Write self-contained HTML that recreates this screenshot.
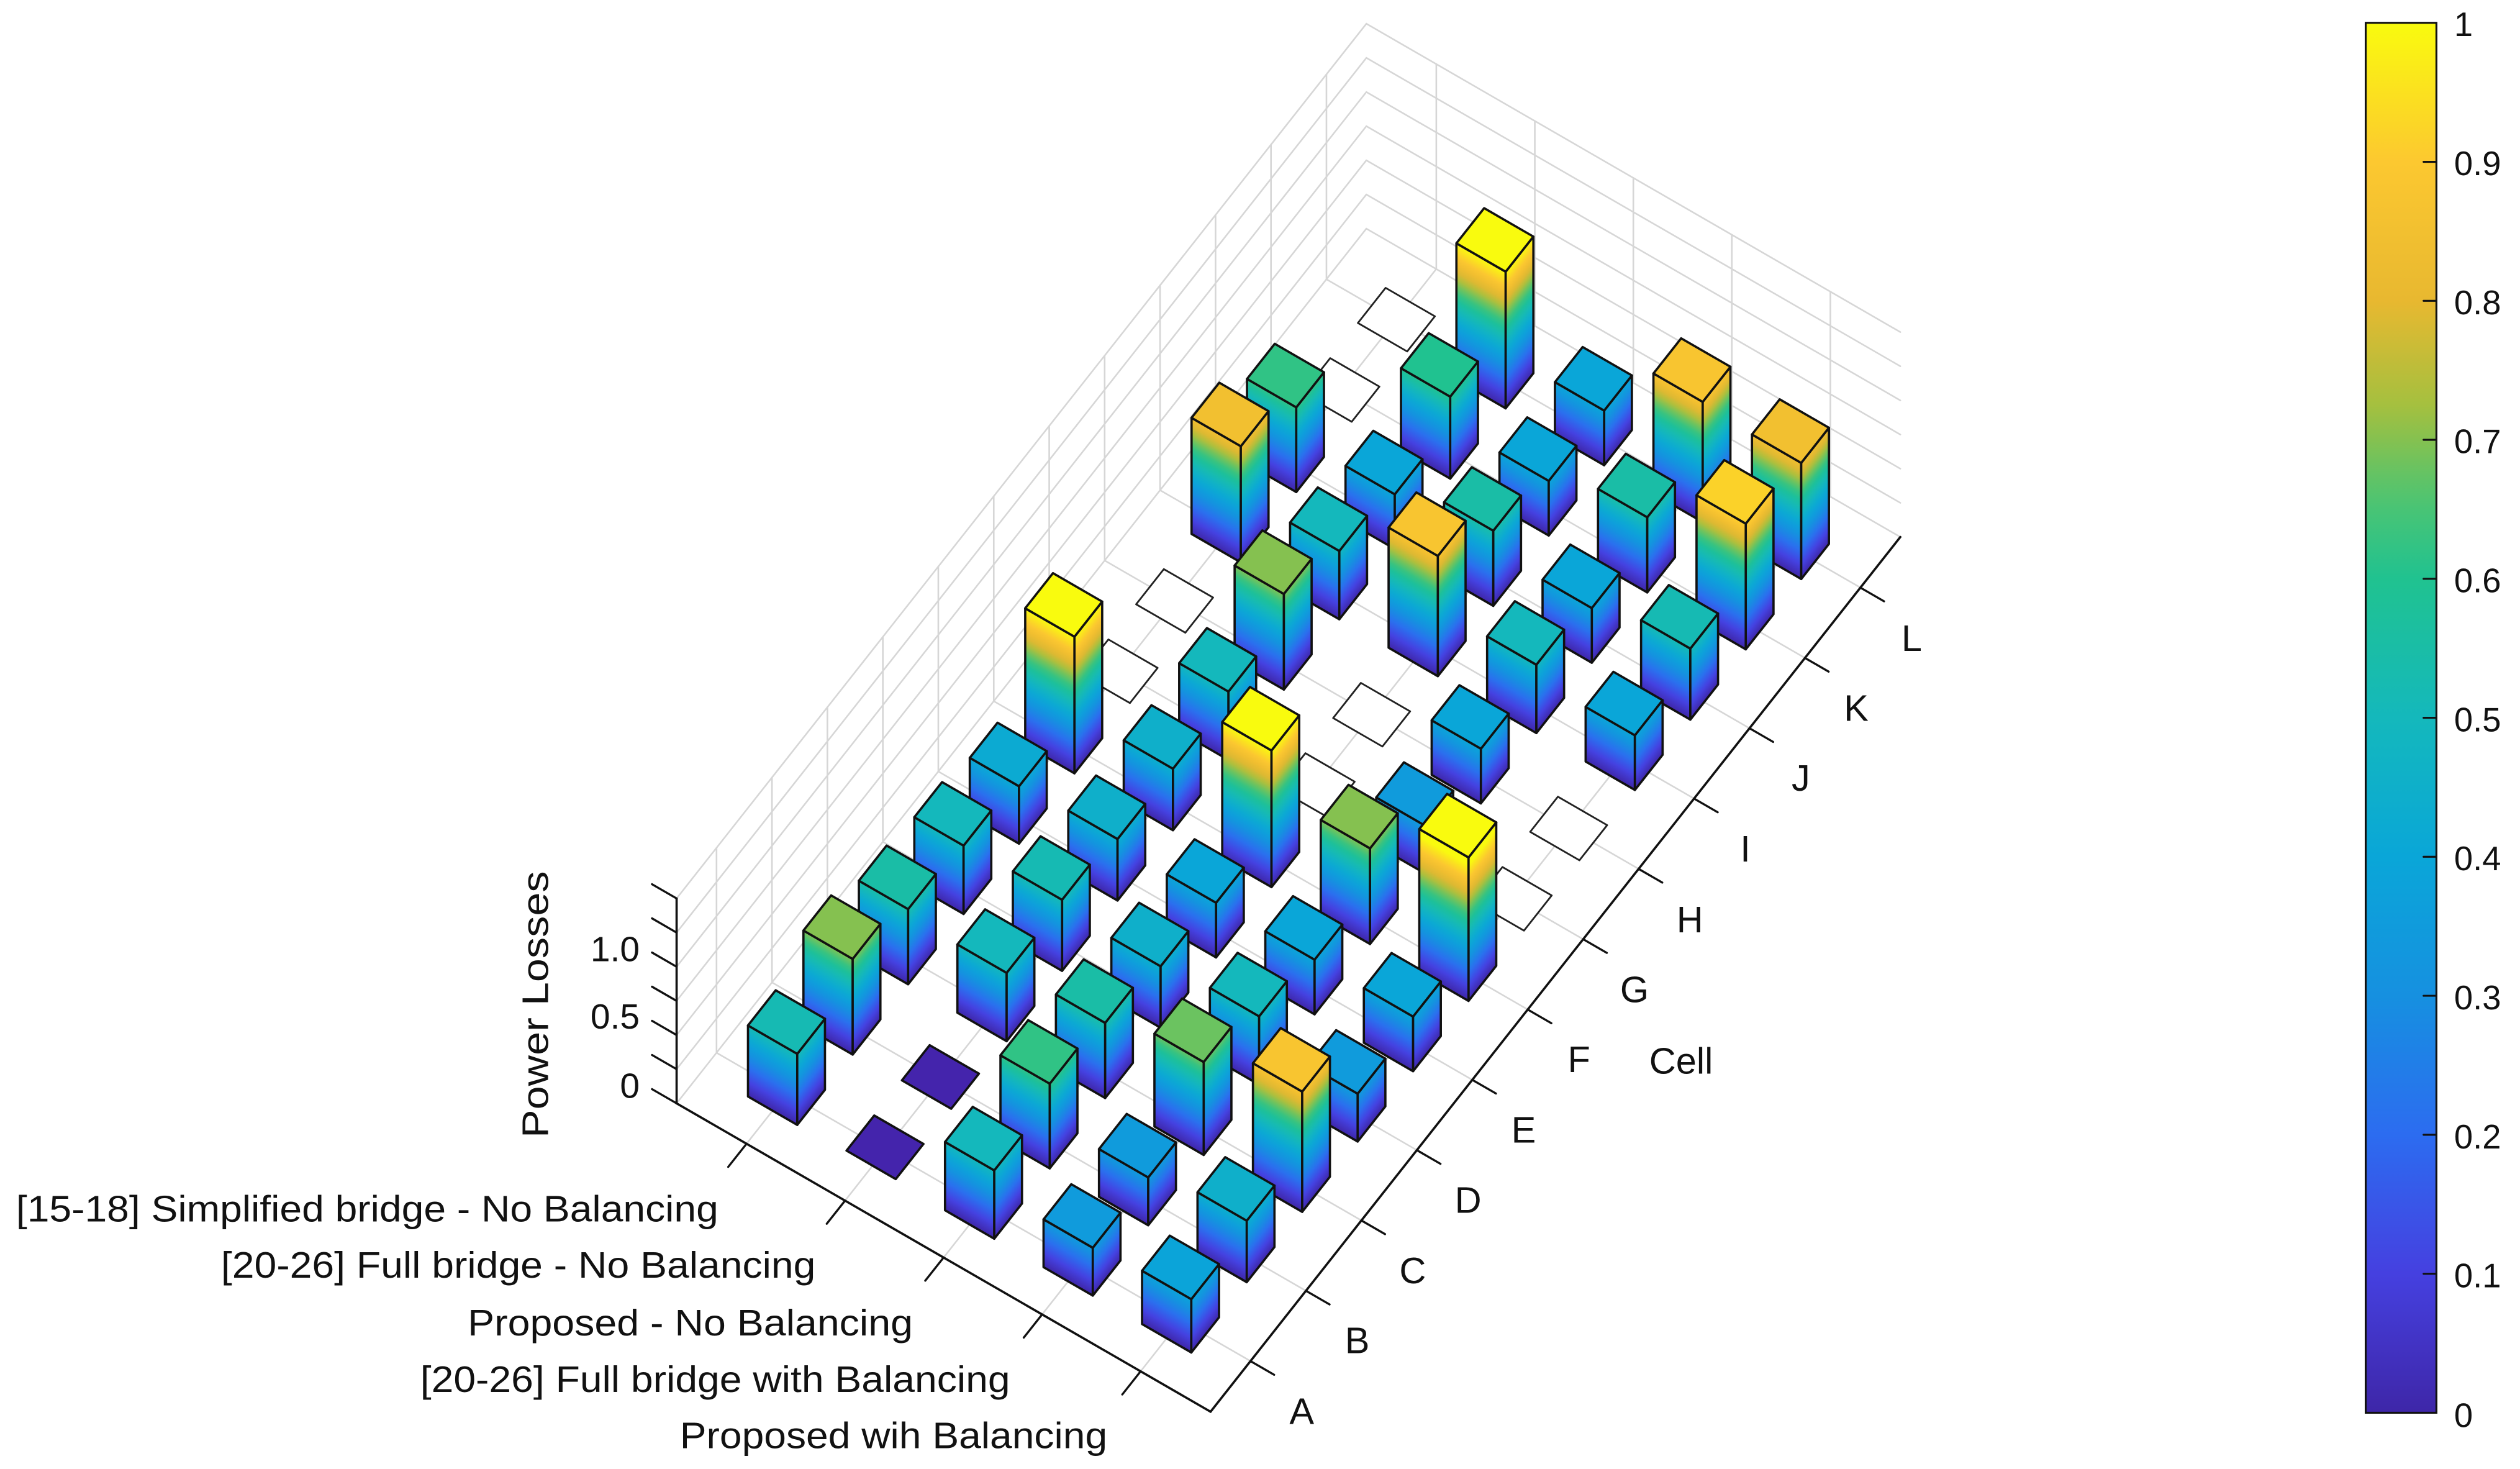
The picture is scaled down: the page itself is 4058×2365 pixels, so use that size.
<!DOCTYPE html>
<html>
<head>
<meta charset="utf-8">
<style>
html,body{margin:0;padding:0;background:#fff;}
svg{display:block;}
text{font-family:"Liberation Sans",Arial,sans-serif;fill:#111;}
</style>
</head>
<body>
<svg id="svg" xmlns="http://www.w3.org/2000/svg" width="4058" height="2365" viewBox="0 0 1568 914" preserveAspectRatio="none">
<defs id="defs">
  <linearGradient id="cbar" x1="0" y1="1" x2="0" y2="0">
  </linearGradient>
</defs>
<rect x="0" y="0" width="1568" height="914" fill="#fff"/>
<g id="grid"></g>
<g id="axes"></g>
<g id="bars"></g>

<rect x="1472" y="14.2" width="44" height="864.8" fill="url(#cbar)" stroke="#111" stroke-width="1.2"/>
<g id="cbticks"></g>
<g font-size="21">
  <text x="1527" y="22.5">1</text>
  <text x="1527" y="109">0.9</text>
  <text x="1527" y="195.5">0.8</text>
  <text x="1527" y="282">0.7</text>
  <text x="1527" y="368.5">0.6</text>
  <text x="1527" y="455">0.5</text>
  <text x="1527" y="541.5">0.4</text>
  <text x="1527" y="628">0.3</text>
  <text x="1527" y="714.5">0.2</text>
  <text x="1527" y="801">0.1</text>
  <text x="1527" y="888">0</text>
</g>

<g font-size="22" text-anchor="end">
  <text x="398" y="683">0</text>
  <text x="398" y="640">0.5</text>
  <text x="398" y="598">1.0</text>
</g>
<text font-size="23" transform="translate(341,625) rotate(-90)" text-anchor="middle" textLength="166" lengthAdjust="spacingAndGlyphs">Power Losses</text>

<g font-size="23" text-anchor="end">
  <text x="447" y="760" textLength="437" lengthAdjust="spacingAndGlyphs">[15-18] Simplified bridge - No Balancing</text>
  <text x="507.5" y="795" textLength="370" lengthAdjust="spacingAndGlyphs">[20-26] Full bridge - No Balancing</text>
  <text x="568" y="831" textLength="277" lengthAdjust="spacingAndGlyphs">Proposed - No Balancing</text>
  <text x="628.5" y="866" textLength="367" lengthAdjust="spacingAndGlyphs">[20-26] Full bridge with Balancing</text>
  <text x="689" y="901" textLength="266" lengthAdjust="spacingAndGlyphs">Proposed wih Balancing</text>
</g>

<g font-size="23" text-anchor="middle">
  <text x="810" y="886">A</text>
  <text x="844.5" y="842">B</text>
  <text x="879" y="798.5">C</text>
  <text x="913.5" y="754.5">D</text>
  <text x="948" y="711">E</text>
  <text x="982.5" y="667">F</text>
  <text x="1017" y="623.5">G</text>
  <text x="1051.5" y="580">H</text>
  <text x="1086" y="536">I</text>
  <text x="1120.5" y="492">J</text>
  <text x="1155" y="448.5">K</text>
  <text x="1189.5" y="405">L</text>
  <text x="1046" y="668">Cell</text>
</g>
</svg>

<script>
(function(){
var NS="http://www.w3.org/2000/svg";
var u=[61.3,35.4], v=[34.5,-43.75], L0=[421,686.5], Z=85;
var SU=5.42, SV=12.44;
function P(s,c,z){return [L0[0]+s*u[0]+c*v[0], L0[1]+s*u[1]+c*v[1]-(z||0)*Z];}
var stops=[[0,[62,38,168]],[0.1,[69,64,224]],[0.2,[44,108,240]],[0.3,[22,144,224]],[0.4,[10,166,216]],[0.5,[20,184,188]],[0.6,[32,194,144]],[0.66,[80,196,112]],[0.72,[160,192,64]],[0.8,[232,184,48]],[0.9,[252,200,48]],[1.0,[249,251,14]]];
function cmap(t){
  if(t<=0) t=0; if(t>=1) t=1;
  for(var i=1;i<stops.length;i++){
    if(t<=stops[i][0]){
      var a=stops[i-1],b=stops[i],f=(t-a[0])/(b[0]-a[0]);
      var r=Math.round(a[1][0]+(b[1][0]-a[1][0])*f),g=Math.round(a[1][1]+(b[1][1]-a[1][1])*f),bb=Math.round(a[1][2]+(b[1][2]-a[1][2])*f);
      return "rgb("+r+","+g+","+bb+")";
    }
  }
  return "rgb(249,251,14)";
}
function el(tag,attrs,parent){var e=document.createElementNS(NS,tag);for(var k in attrs)e.setAttribute(k,attrs[k]);if(parent)parent.appendChild(e);return e;}
function line(a,b,col,w,parent){el("line",{x1:a[0].toFixed(2),y1:a[1].toFixed(2),x2:b[0].toFixed(2),y2:b[1].toFixed(2),stroke:col,"stroke-width":w,"stroke-linecap":"round"},parent);}
function pts(arr){return arr.map(function(p){return p[0].toFixed(2)+","+p[1].toFixed(2);}).join(" ");}
var defs=document.getElementById("defs");
var cb=document.getElementById("cbar");
for(var k=0;k<=40;k++){el("stop",{offset:(k/40).toFixed(3),"stop-color":cmap(k/40)},cb);}

var grid=document.getElementById("grid");
var gc="#d6d6d6", gw=1;
for(var s=0;s<5;s++){line(P(s+0.71,0),P(s+0.71,SV),gc,gw,grid);}
for(var c=0;c<12;c++){line(P(0,c+0.72),P(SU,c+0.72),gc,gw,grid);}
for(var c=0;c<12;c++){line(P(0,c+0.72,0),P(0,c+0.72,1.5),gc,gw,grid);}
for(var z=0;z<=1.5001;z+=0.25){line(P(0,0,z),P(0,SV,z),gc,gw,grid);}
for(var s=0;s<5;s++){line(P(s+0.71,SV,0),P(s+0.71,SV,1.5),gc,gw,grid);}
for(var z=0;z<=1.5001;z+=0.25){line(P(0,SV,z),P(SU,SV,z),gc,gw,grid);}

var ax=document.getElementById("axes");
var F=P(SU,0,0);
line(P(0,0,0),P(0,0,1.5),"#111",1.4,ax);
line(P(0,0,0),F,"#111",1.4,ax);
line(F,P(SU,SV,0),"#111",1.4,ax);
for(var z=0;z<=1.5001;z+=0.25){var p=P(0,0,z);line(p,[p[0]-15.3,p[1]-8.85],"#111",1.3,ax);}
for(var s=0;s<5;s++){var p=P(s+0.71,0,0);line(p,[p[0]-11.4,p[1]+14.4],"#111",1.3,ax);}
for(var c=0;c<12;c++){var p=P(SU,c+0.72,0);line(p,[p[0]+14.7,p[1]+8.5],"#111",1.3,ax);}

var cbt=document.getElementById("cbticks");
for(var k=1;k<10;k++){var y=879-k*86.48;line([1508,y],[1516,y],"#111",1.2,cbt);}

var D=[
[0.52,0.70,0.55,0.50,0.42,1.0,null,null,0.85,0.62,null,null],
[0.02,0.02,0.50,0.52,0.45,0.45,0.50,0.70,0.50,0.40,0.60,1.0],
[0.50,0.62,0.55,0.45,0.40,1.0,null,null,0.88,0.55,0.40,0.40],
[0.35,0.35,0.68,0.50,0.40,0.70,0.35,0.40,0.50,0.40,0.55,0.88],
[0.39,0.45,0.88,0.35,0.40,1.05,null,null,0.40,0.52,0.92,0.85]];
var items=[];
for(var s=0;s<5;s++)for(var c=0;c<12;c++){
  var cs=s+0.71, cc=c+0.72; var b=P(cs,cc,0);
  items.push({s:cs,c:cc,h:D[s][c],y:b[1]});
}
items.sort(function(a,b){return a.y-b.y;});
var bars=document.getElementById("bars");
var gid=0;
var ZMAX=1.05;
function faceGrad(p0,e){
  var len=Math.hypot(e[0],e[1]);
  var n=[-e[1]/len,e[0]/len]; if(n[1]>0){n=[-n[0],-n[1]];}
  var L=-n[1]*ZMAX*Z;
  var id="g"+(gid++);
  var g=el("linearGradient",{id:id,gradientUnits:"userSpaceOnUse",x1:p0[0].toFixed(2),y1:p0[1].toFixed(2),x2:(p0[0]+n[0]*L).toFixed(2),y2:(p0[1]+n[1]*L).toFixed(2)},defs);
  for(var k=0;k<=20;k++){el("stop",{offset:(k/20).toFixed(3),"stop-color":cmap(k/20*ZMAX)},g);}
  return "url(#"+id+")";
}
var hw=0.25;
items.forEach(function(it){
  var s=it.s,c=it.c,h=it.h;
  if(h===null){
    el("polygon",{points:pts([P(s-hw,c-hw),P(s+hw,c-hw),P(s+hw,c+hw),P(s-hw,c+hw)]),fill:"#fff",stroke:"#222","stroke-width":1.1,"stroke-linejoin":"round"},bars);
    return;
  }
  if(h<0.05){
    el("polygon",{points:pts([P(s-hw,c-hw,h),P(s+hw,c-hw,h),P(s+hw,c+hw,h),P(s-hw,c+hw,h)]),fill:"#4424ac",stroke:"#111","stroke-width":1.4,"stroke-linejoin":"round"},bars);
    return;
  }
  var Lf0=P(s-hw,c-hw,0),F0=P(s+hw,c-hw,0),R0=P(s+hw,c+hw,0);
  var Lf1=P(s-hw,c-hw,h),F1=P(s+hw,c-hw,h),R1=P(s+hw,c+hw,h),B1=P(s-hw,c+hw,h);
  el("polygon",{points:pts([Lf0,F0,F1,Lf1]),fill:faceGrad(Lf0,[F0[0]-Lf0[0],F0[1]-Lf0[1]]),stroke:"#111","stroke-width":1.4,"stroke-linejoin":"round"},bars);
  el("polygon",{points:pts([F0,R0,R1,F1]),fill:faceGrad(F0,[R0[0]-F0[0],R0[1]-F0[1]]),stroke:"#111","stroke-width":1.4,"stroke-linejoin":"round"},bars);
  el("polygon",{points:pts([Lf1,F1,R1,B1]),fill:cmap(h),stroke:"#111","stroke-width":1.4,"stroke-linejoin":"round"},bars);
});
})();
</script>
</body>
</html>
